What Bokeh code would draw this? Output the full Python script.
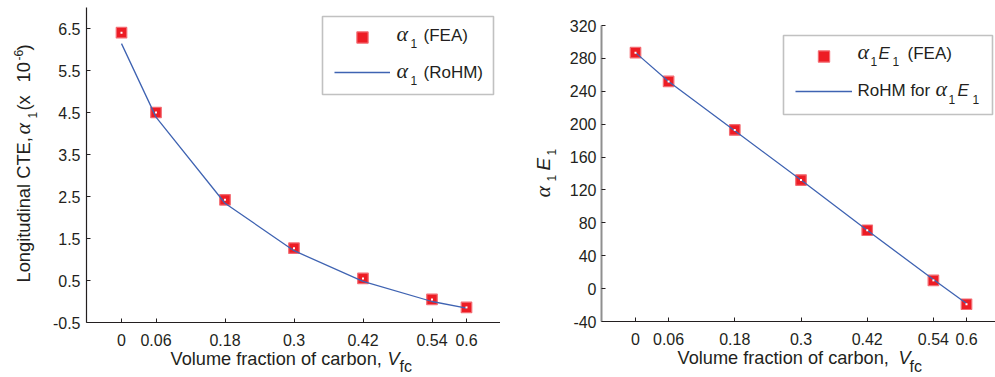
import math

from bokeh.embed import file_html
from bokeh.layouts import row
from bokeh.models import BoxAnnotation, FixedTicker, Label, Legend, LegendItem, Range1d
from bokeh.plotting import figure
from bokeh.resources import INLINE

# ---- data -------------------------------------------------------------
vf = [0, 0.06, 0.18, 0.3, 0.42, 0.54, 0.6]
vf_tick_labels = ["0", "0.06", "0.18", "0.3", "0.42", "0.54", "0.6"]

cte_fea = [6.40, 4.50, 2.42, 1.27, 0.55, 0.05, -0.14]
cte_rohm = [6.14, 4.39, 2.34, 1.21, 0.48, 0.00, -0.16]
cte_ticks = [-0.5, 0.5, 1.5, 2.5, 3.5, 4.5, 5.5, 6.5]
cte_tick_labels = ["-0.5", "0.5", "1.5", "2.5", "3.5", "4.5", "5.5", "6.5"]

ae_fea = [287, 252, 193, 132, 71, 10, -19]
ae_rohm = [287, 252, 192, 132, 71, 11, -18]
ae_ticks = [-40, 0, 40, 80, 120, 160, 200, 240, 280, 320]
ae_tick_labels = ["-40", "0", "40", "80", "120", "160", "200", "240", "280", "320"]

# ---- styling ----------------------------------------------------------
SANS = "Liberation Sans"
SERIF = "Liberation Serif"
INK = "#231f20"
RED = "#ed1c24"
RED_EDGE = "#f36b72"
BLUE = "#3f63b2"
W_LEFT, W_RIGHT, H = 500, 495, 377
BASELINE_LIFT = 0.38  # em; lifts the drawn text onto the intended baseline


def lin(p0, v0, p1, v1):
    """Pixel -> value map through two reference ticks."""
    return lambda px: v0 + (px - p0) * (v1 - v0) / (p1 - p0)


def geometry(width, xmap, ymap, spine_px, axis_px, top_px, right_px):
    fx, fy = xmap, ymap
    return dict(fx=fx, fy=fy,
                xr=(fx(0), fx(width)), yr=(fy(H), fy(0)),
                spine_x=fx(spine_px), axis_y=fy(axis_px),
                xbounds=(fx(spine_px), fx(right_px)), ybounds=(fy(axis_px), fy(top_px)))


def text(p, g, sx, sy, s, size, font=SANS, italic=False, vertical=False):
    """Place one text piece with its baseline start at a pixel position of the figure."""
    lift = BASELINE_LIFT * size
    if vertical:
        sx -= lift
    else:
        sy -= lift
    p.add_layout(Label(x=g["fx"](sx), y=g["fy"](sy), text=s, text_font=font,
                       text_font_size=f"{size}px",
                       text_font_style="italic" if italic else "normal",
                       text_color=INK, text_align="left", text_baseline="alphabetic",
                       angle=math.pi / 2 if vertical else 0.0))


def panel(g, width, yticks, ylabels, spine_color, spine_width, label_standoff):
    # the frame fills the whole canvas; the axes sit at fixed data locations inside it
    p = figure(width=width, height=H, output_backend="svg", toolbar_location=None,
               title_location=None,
               x_range=Range1d(*g["xr"]), y_range=Range1d(*g["yr"]),
               min_border_left=0, min_border_right=0, min_border_top=0, min_border_bottom=0)
    p.outline_line_color = None
    p.grid.visible = False
    p.background_fill_color = "white"
    p.border_fill_color = "white"

    xa = p.xaxis[0]
    xa.ticker = FixedTicker(ticks=vf)
    xa.major_label_overrides = {t: s for t, s in zip(vf, vf_tick_labels)}
    xa.fixed_location = g["axis_y"]
    xa.bounds = g["xbounds"]
    ya = p.yaxis[0]
    ya.ticker = FixedTicker(ticks=yticks)
    ya.major_label_overrides = {t: s for t, s in zip(yticks, ylabels)}
    ya.fixed_location = g["spine_x"]
    ya.bounds = g["ybounds"]
    for ax in (xa, ya):
        ax.minor_tick_line_color = None
        ax.major_tick_in = 4
        ax.major_tick_out = 0
        ax.major_tick_line_color = INK
        ax.major_label_text_font = SANS
        ax.major_label_text_font_size = "16px"
        ax.major_label_text_color = INK
    xa.axis_line_color = INK
    xa.axis_line_width = 1.2
    xa.major_label_standoff = 11
    ya.axis_line_color = spine_color
    ya.axis_line_width = spine_width
    ya.major_label_standoff = label_standoff
    return p


def draw_series(p, g, fea, rohm, legend_box, glyph_origin, glyph_width):
    sq = p.scatter(vf, fea, marker="square", size=10.5, fill_color=RED,
                   line_color=RED_EDGE, line_width=1.2)
    ln = p.line(vf, rohm, line_color=BLUE, line_width=1.3)
    p.scatter(vf, fea, marker="square", size=2, fill_color="white", line_color=None)

    l, r, t, b = legend_box
    p.add_layout(BoxAnnotation(left=g["fx"](l), right=g["fx"](r),
                               top=g["fy"](t), bottom=g["fy"](b),
                               fill_color="white", fill_alpha=1.0,
                               line_color="#333333", line_width=1.6))
    gx, gy = glyph_origin
    leg = Legend(items=[LegendItem(label=" ", renderers=[sq]),
                        LegendItem(label=" ", renderers=[ln])],
                 location=(gx, H - (gy + 63)),
                 glyph_width=glyph_width, glyph_height=28, spacing=7,
                 padding=0, margin=0, label_width=0, label_standoff=0,
                 label_text_font_size="1px", border_line_color=None,
                 background_fill_alpha=0.0)
    p.add_layout(leg)


# ---- left panel: longitudinal CTE -------------------------------------
gl = geometry(W_LEFT, lin(121, 0.0, 466, 0.6), lin(322, -0.5, 28, 6.5),
              spine_px=86, axis_px=322, top_px=7, right_px=500)
p1 = panel(gl, W_LEFT, cte_ticks, cte_tick_labels, INK, 1.2, 6)
draw_series(p1, gl, cte_fea, cte_rohm, (322, 493, 16, 94), (334, 23), 56)

text(p1, gl, 396, 41.7, "α", 22, SERIF, italic=True)
text(p1, gl, 410, 48.0, "1", 12)
text(p1, gl, 423, 41.7, "(FEA)", 17)
text(p1, gl, 396, 78.3, "α", 22, SERIF, italic=True)
text(p1, gl, 410, 84.5, "1", 12)
text(p1, gl, 423, 78.3, "(RoHM)", 17)

text(p1, gl, 170, 365.5, "Volume fraction of carbon,", 18.2)
text(p1, gl, 387, 365.5, "V", 18.2, italic=True)
text(p1, gl, 399, 372.5, "fc", 16)

text(p1, gl, 30, 282, "Longitudinal CTE,", 18.3, vertical=True)
text(p1, gl, 30, 134, "α", 22, SERIF, italic=True, vertical=True)
text(p1, gl, 37, 118, "1", 12, vertical=True)
text(p1, gl, 30, 110, "(x", 18.3, vertical=True)
text(p1, gl, 30, 82, "10", 18.3, vertical=True)
text(p1, gl, 23, 60, "-6", 12, vertical=True)
text(p1, gl, 30, 50, ")", 18.3, vertical=True)

# ---- right panel: alpha1 * E1 -----------------------------------------
gr = geometry(W_RIGHT, lin(135, 0.0, 466, 0.6), lin(321, -40.0, 25, 320.0),
              spine_px=101, axis_px=321, top_px=25, right_px=495)
p2 = panel(gr, W_RIGHT, ae_ticks, ae_tick_labels, "#8f8f8f", 2.0, 5)
draw_series(p2, gr, ae_fea, ae_rohm, (283, 492, 35, 114), (295, 42), 57)

text(p2, gr, 357, 59.0, "α", 22, SERIF, italic=True)
text(p2, gr, 370, 66.0, "1", 12)
text(p2, gr, 378, 59.0, "E", 17, italic=True)
text(p2, gr, 392, 66.0, "1", 12)
text(p2, gr, 407, 59.0, "(FEA)", 17)
text(p2, gr, 357, 96.7, "RoHM for", 17)
text(p2, gr, 435, 96.7, "α", 22, SERIF, italic=True)
text(p2, gr, 448, 103.5, "1", 12)
text(p2, gr, 457, 96.7, "E", 17, italic=True)
text(p2, gr, 472, 103.5, "1", 12)

text(p2, gr, 177, 364.5, "Volume fraction of carbon,", 18.2)
text(p2, gr, 398, 364.5, "V", 18.2, italic=True)
text(p2, gr, 409, 372.0, "fc", 16)

text(p2, gr, 50, 197, "α", 22, SERIF, italic=True, vertical=True)
text(p2, gr, 56, 181, "1", 12, vertical=True)
text(p2, gr, 50, 170, "E", 19, italic=True, vertical=True)
text(p2, gr, 56, 155, "1", 12, vertical=True)

layout = row(p1, p2)
open("out.html", "w").write(file_html(layout, INLINE))
